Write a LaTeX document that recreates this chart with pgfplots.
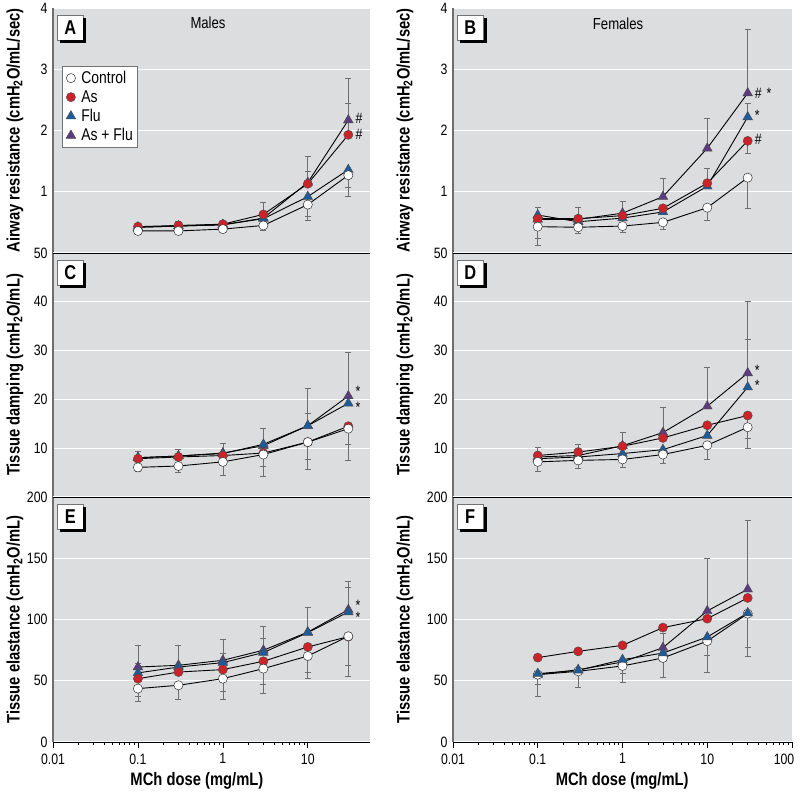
\documentclass[border=0pt]{standalone}
\usepackage{fontspec}
\setmainfont{Liberation Sans}[FakeStretch=0.82]
\usepackage{pgfplots}
\pgfplotsset{compat=1.18}
\definecolor{bgc}{HTML}{DCDDDF}
\definecolor{axg}{HTML}{6E6E6E}
\definecolor{cred}{HTML}{CC2229}
\definecolor{cblue}{HTML}{1E5B98}
\definecolor{cpurp}{HTML}{5E3A7E}
\tikzset{
  sCtrl/.style={black, line width=0.9pt, mark=*, mark size=4.6pt, mark options={fill=white, draw=black!80, line width=0.5pt}},
  sAs/.style={black, line width=0.9pt, mark=*, mark size=4.6pt, mark options={fill=cred, draw=black!70, line width=0.4pt}},
  sFlu/.style={black, line width=0.9pt, mark=triangle*, mark size=5.6pt, mark options={fill=cblue, draw=black!70, line width=0.4pt}},
  sAF/.style={black, line width=0.9pt, mark=triangle*, mark size=5.6pt, mark options={fill=cpurp, draw=black!70, line width=0.4pt}},
  plabel/.style={draw=black!55, fill=white, line width=0.5pt, minimum width=26pt, minimum height=25pt, inner sep=0pt,
    font=\bfseries\fontsize{20}{20}\selectfont, anchor=north west},
  ann/.style={anchor=west, font=\fontsize{15}{15}\selectfont, inner sep=0pt, xshift=7pt},
  ttl/.style={font=\fontsize{16}{16}\selectfont},
}
\pgfplotsset{
  every axis/.append style={
    scale only axis, xmode=log, xmin=0.01,
    axis background/.style={fill=bgc},
    axis line style={draw=none},
    ytick style={draw=none},
    ymajorgrids, major grid style={white, line width=1.2pt},
    /pgf/number format/assume math mode=true,
    tick label style={font=\fontsize{15}{15}\selectfont},
    yticklabel style={xshift=-2pt},
    label style={font=\bfseries\fontsize{18}{18}\selectfont},
    clip=false,
    error bars/y dir=both, error bars/y explicit,
    error bars/error bar style={axg, line width=0.6pt},
    error bars/error mark options={rotate=90, draw=axg, mark size=3pt, line width=0.6pt},
  },
}
\newcommand{\shadowL}[1]{\draw[black, line width=3pt] ([xshift=1.5pt,yshift=-3pt]#1.north east) -- ([xshift=1.5pt,yshift=-1.5pt]#1.south east) -- ([xshift=3pt,yshift=-1.5pt]#1.south west);}
\newcommand{\plab}[1]{\node[plabel] (pl) at ([xshift=4pt,yshift=-7pt]rel axis cs:0,1) {#1};\shadowL{pl}}
\newcommand{\lline}{\draw[axg, line width=2pt] (rel axis cs:0,0) -- (rel axis cs:0,1);}
\newcommand{\tline}{\draw[black, line width=0.8pt] (rel axis cs:0,1) -- (rel axis cs:1,1);}
\newcommand{\bline}{\draw[black, line width=0.8pt] (rel axis cs:0,0) -- (rel axis cs:1,0);}
\begin{document}
\begin{tikzpicture}
\useasboundingbox (0,0) rectangle (800pt,800pt);
% ---------------- A ----------------
\begin{axis}[width=317pt, xmax=54, xtick=\empty, at={(53pt,547pt)}, anchor=south west, height=245pt,
  ymin=0, ymax=4, ytick={1,2,3,4},
  ylabel={Airway resistance (cmH\textsubscript{2}O/mL/sec)},
  ylabel style={at={(axis description cs:-0.12,0.5)}, anchor=center},
  legend style={at={(axis description cs:0.0284,0.763)}, anchor=north west, draw=black!55, fill=white,
    font=\fontsize{17}{17}\selectfont,
    row sep=1.5pt, inner xsep=2pt, inner ysep=3pt},
  legend cell align=left, reverse legend,
  legend image code/.code={\path (0cm,0cm) (0.5cm,0cm); \draw[#1] plot coordinates {(0.22cm,0cm)};}]
\lline
\addplot[sAF, error bars/.cd, y dir=both, y explicit] coordinates {(0.1,0.42) (0.3,0.44) (1,0.46) (3,0.57) (10,1.15) += (0,0.43) -= (0,0) (30,2.17) += (0,0.68) -= (0,0)};
\addlegendentry{As + Flu}
\addplot[sFlu, error bars/.cd, y dir=both, y explicit] coordinates {(0.1,0.42) (0.3,0.44) (1,0.46) (3,0.56) (10,0.92) += (0,0) -= (0,0.32) (30,1.36) += (0,0) -= (0,0.28)};
\addlegendentry{Flu}
\addplot[sAs, error bars/.cd, y dir=both, y explicit] coordinates {(0.1,0.43) += (0,0.03) -= (0,0) (0.3,0.45) += (0,0.06) -= (0,0) (1,0.47) += (0,0.05) -= (0,0) (3,0.63) += (0,0.2) -= (0,0.12) (10,1.13) += (0,0.21) -= (0,0) (30,1.93) += (0,0.52) -= (0,0)};
\addlegendentry{As}
\addplot[sCtrl, error bars/.cd, y dir=both, y explicit] coordinates {(0.1,0.36) += (0,0) -= (0,0.04) (0.3,0.36) += (0,0) -= (0,0.04) (1,0.39) += (0,0) -= (0,0.06) (3,0.45) += (0,0) -= (0,0.08) (10,0.79) += (0,0) -= (0,0.25) (30,1.27) += (0,0) -= (0,0.35)};
\addlegendentry{Control}
\plab{A}
\node[ttl] at (axis description cs:0.489,0.939) {Males};
\node[ann] at (axis cs:30,2.2) {\#};
\node[ann] at (axis cs:30,1.93) {\#};
\end{axis}
% ---------------- B ----------------
\begin{axis}[width=339pt, xmax=100, xtick=\empty, at={(453pt,547pt)}, anchor=south west, height=245pt,
  ymin=0, ymax=4, ytick={1,2,3,4},
  ylabel={Airway resistance (cmH\textsubscript{2}O/mL/sec)},
  ylabel style={at={(axis description cs:-0.1416,0.5)}, anchor=center}]
\lline
\addplot[sAF, error bars/.cd, y dir=both, y explicit] coordinates {(0.1,0.55) += (0,0.19) -= (0,0) (0.3,0.55) += (0,0.19) -= (0,0) (1,0.65) += (0,0.2) -= (0,0) (3,0.92) += (0,0.3) -= (0,0) (10,1.71) += (0,0.49) -= (0,0) (30,2.61) += (0,1.04) -= (0,0)};
\addplot[sFlu, error bars/.cd, y dir=both, y explicit] coordinates {(0.1,0.62) (0.3,0.51) (1,0.57) (3,0.67) (10,1.09) (30,2.22) += (0,0.23) -= (0,0)};
\addplot[sAs, error bars/.cd, y dir=both, y explicit] coordinates {(0.1,0.56) += (0,0) -= (0,0.32) (0.3,0.56) (1,0.61) (3,0.73) (10,1.14) += (0,0.24) -= (0,0) (30,1.83) += (0,0) -= (0,0.21)};
\addplot[sCtrl, error bars/.cd, y dir=both, y explicit] coordinates {(0.1,0.43) += (0,0) -= (0,0.3) (0.3,0.42) += (0,0) -= (0,0.1) (1,0.44) += (0,0) -= (0,0.11) (3,0.5) += (0,0) -= (0,0.11) (10,0.74) += (0,0) -= (0,0.2) (30,1.23) += (0,0) -= (0,0.5)};
\plab{B}
\node[ttl] at (axis description cs:0.487,0.935) {Females};
\node[ann] at (axis cs:30,2.6) {\#\,\,*};
\node[ann] at (axis cs:30,2.24) {*};
\node[ann] at (axis cs:30,1.86) {\#};
\end{axis}
% ---------------- C ----------------
\begin{axis}[width=317pt, xmax=54, xtick=\empty, at={(53pt,303pt)}, anchor=south west, height=244pt,
  ymin=0, ymax=50, ytick={10,20,30,40,50},
  ylabel={Tissue damping (cmH\textsubscript{2}O/mL)},
  ylabel style={at={(axis description cs:-0.12,0.5)}, anchor=center}]
\lline\tline
\addplot[sAF, error bars/.cd, y dir=both, y explicit] coordinates {(0.1,8.05) += (0,1.3) -= (0,0) (0.3,8.4) += (0,1.3) -= (0,0) (1,9.0) += (0,2.1) -= (0,0) (3,10.5) += (0,3.6) -= (0,0) (10,14.6) += (0,7.6) -= (0,0) (30,20.7) += (0,9) -= (0,0)};
\addplot[sFlu, error bars/.cd, y dir=both, y explicit] coordinates {(0.1,8.05) (0.3,8.4) (1,8.9) (3,10.8) (10,14.6) += (0,2.6) -= (0,0) (30,19.2)};
\addplot[sAs, error bars/.cd, y dir=both, y explicit] coordinates {(0.1,7.85) (0.3,8.2) (1,8.5) (3,9.0) += (0,0) -= (0,2.7) (10,11.25) += (0,0) -= (0,3.5) (30,14.5) += (0,0) -= (0,3.6)};
\addplot[sCtrl, error bars/.cd, y dir=both, y explicit] coordinates {(0.1,6.07) += (0,0) -= (0,0.9) (0.3,6.35) += (0,0) -= (0,1.35) (1,7.2) += (0,0) -= (0,2.8) (3,8.7) += (0,0) -= (0,4.5) (10,11.25) += (0,0) -= (0,5.5) (30,14.0) += (0,0) -= (0,6.4)};
\plab{C}
\node[ann] at (axis cs:30,21.6) {*};
\node[ann] at (axis cs:30,18.4) {*};
\end{axis}
% ---------------- D ----------------
\begin{axis}[width=339pt, xmax=100, xtick=\empty, at={(453pt,303pt)}, anchor=south west, height=244pt,
  ymin=0, ymax=50, ytick={10,20,30,40,50},
  ylabel={Tissue damping (cmH\textsubscript{2}O/mL)},
  ylabel style={at={(axis description cs:-0.1416,0.5)}, anchor=center}]
\lline\tline
\addplot[sAF, error bars/.cd, y dir=both, y explicit] coordinates {(0.1,8.2) += (0,1.9) -= (0,0) (0.3,8.5) += (0,2.3) -= (0,0) (1,10.5) += (0,2.7) -= (0,0) (3,13.2) += (0,5.2) -= (0,0) (10,18.6) += (0,8) -= (0,0) (30,25.4) += (0,14.7) -= (0,0)};
\addplot[sFlu, error bars/.cd, y dir=both, y explicit] coordinates {(0.1,7.85) (0.3,8.2) (1,8.9) (3,9.7) (10,12.6) (30,22.5) += (0,9.9) -= (0,0)};
\addplot[sAs, error bars/.cd, y dir=both, y explicit] coordinates {(0.1,8.5) (0.3,9.2) (1,10.4) (3,12.1) (10,14.7) (30,16.7) += (0,0) -= (0,4.6)};
\addplot[sCtrl, error bars/.cd, y dir=both, y explicit] coordinates {(0.1,7.2) += (0,0) -= (0,1.9) (0.3,7.5) += (0,0) -= (0,1.6) (1,7.7) += (0,0) -= (0,1.6) (3,8.7) += (0,0) -= (0,1.7) (10,10.6) += (0,0) -= (0,2.8) (30,14.3) += (0,0) -= (0,4.3)};
\plab{D}
\node[ann] at (axis cs:30,26.0) {*};
\node[ann] at (axis cs:30,22.8) {*};
\end{axis}
% ---------------- E ----------------
\begin{axis}[width=317pt, xmax=54, at={(53pt,58pt)}, anchor=south west, height=245pt,
  ymin=0, ymax=200, ytick={0,50,100,150,200},
  xtick={0.01,0.1,1,10}, xticklabels={0.01,0.1,1,10},
  xtick style={draw=black, line width=0.6pt}, xtick align=outside, major tick length=6pt, xtick pos=bottom,
  xticklabel style={yshift=-2pt},
  xlabel={MCh dose (mg/mL)},
  xlabel style={at={(axis description cs:0.454,0)}, anchor=north, yshift=-27pt},
  ylabel={Tissue elastance (cmH\textsubscript{2}O/mL)},
  ylabel style={at={(axis description cs:-0.12,0.5)}, anchor=center}]
\lline\tline\bline
\addplot[sAF, error bars/.cd, y dir=both, y explicit] coordinates {(0.1,61.2) += (0,18) -= (0,0) (0.3,62.6) += (0,16) -= (0,0) (1,66.7) += (0,17) -= (0,0) (3,74.9) += (0,19.5) -= (0,0) (10,89.7) += (0,20) -= (0,0) (30,108) += (0,23) -= (0,0)};
\addplot[sFlu, error bars/.cd, y dir=both, y explicit] coordinates {(0.1,56.4) += (0,8) -= (0,0) (0.3,61.2) (1,64.8) += (0,8) -= (0,0) (3,73) += (0,11.4) -= (0,0) (10,89.3) (30,106.1) += (0,20) -= (0,0)};
\addplot[sAs, error bars/.cd, y dir=both, y explicit] coordinates {(0.1,51.7) += (0,0) -= (0,14) (0.3,57.1) (1,59.1) += (0,0) -= (0,17.7) (3,65.9) += (0,0) -= (0,19) (10,77.6) += (0,0) -= (0,21) (30,86) += (0,0) -= (0,23)};
\addplot[sCtrl, error bars/.cd, y dir=both, y explicit] coordinates {(0.1,43.6) += (0,0) -= (0,10) (0.3,46.3) += (0,0) -= (0,11.4) (1,51.7) += (0,0) -= (0,17) (3,59.9) += (0,0) -= (0,20.4) (10,70.2) += (0,0) -= (0,18) (30,86.3) += (0,0) -= (0,32.4)};
\plab{E}
\node[ann] at (axis cs:30,111.5) {*};
\node[ann] at (axis cs:30,102) {*};
\end{axis}
% ---------------- F ----------------
\begin{axis}[width=339pt, xmax=100, at={(453pt,58pt)}, anchor=south west, height=245pt,
  ymin=0, ymax=200, ytick={0,50,100,150,200},
  xtick={0.01,0.1,1,10,100}, xticklabels={0.01,0.1,1,10,\hspace*{-16pt}100},
  xtick style={draw=black, line width=0.6pt}, xtick align=outside, major tick length=6pt, xtick pos=bottom,
  xticklabel style={yshift=-2pt},
  xlabel={MCh dose (mg/mL)},
  xlabel style={at={(axis description cs:0.499,0)}, anchor=north, yshift=-27pt},
  ylabel={Tissue elastance (cmH\textsubscript{2}O/mL)},
  ylabel style={at={(axis description cs:-0.1416,0.5)}, anchor=center}]
\lline\tline\bline
\addplot[sAF, error bars/.cd, y dir=both, y explicit] coordinates {(0.1,55) (0.3,59) (1,65.3) (3,77) += (0,11.5) -= (0,0) (10,107) += (0,43) -= (0,0) (30,124.7) += (0,56) -= (0,0)};
\addplot[sCtrl, error bars/.cd, y dir=both, y explicit] coordinates {(0.1,55) += (0,0) -= (0,17.7) (0.3,57.7) += (0,0) -= (0,12.8) (1,62.1) += (0,0) -= (0,13.6) (3,68.6) += (0,0) -= (0,15.6) (10,82.4) += (0,0) -= (0,25.4) (30,104.8) += (0,0) -= (0,35)};
\addplot[sFlu, error bars/.cd, y dir=both, y explicit] coordinates {(0.1,55.8) += (0,0) -= (0,9) (0.3,58.5) (1,67.2) += (0,0) -= (0,11.4) (3,72.6) (10,85.7) += (0,0) -= (0,15) (30,105.3) += (0,0) -= (0,28)};
\addplot[sAs, error bars/.cd, y dir=both, y explicit] coordinates {(0.1,68.9) (0.3,74.0) (1,78.9) (3,93.4) (10,100.7) (30,117.6)};
\plab{F}
\end{axis}
\end{tikzpicture}
\end{document}
